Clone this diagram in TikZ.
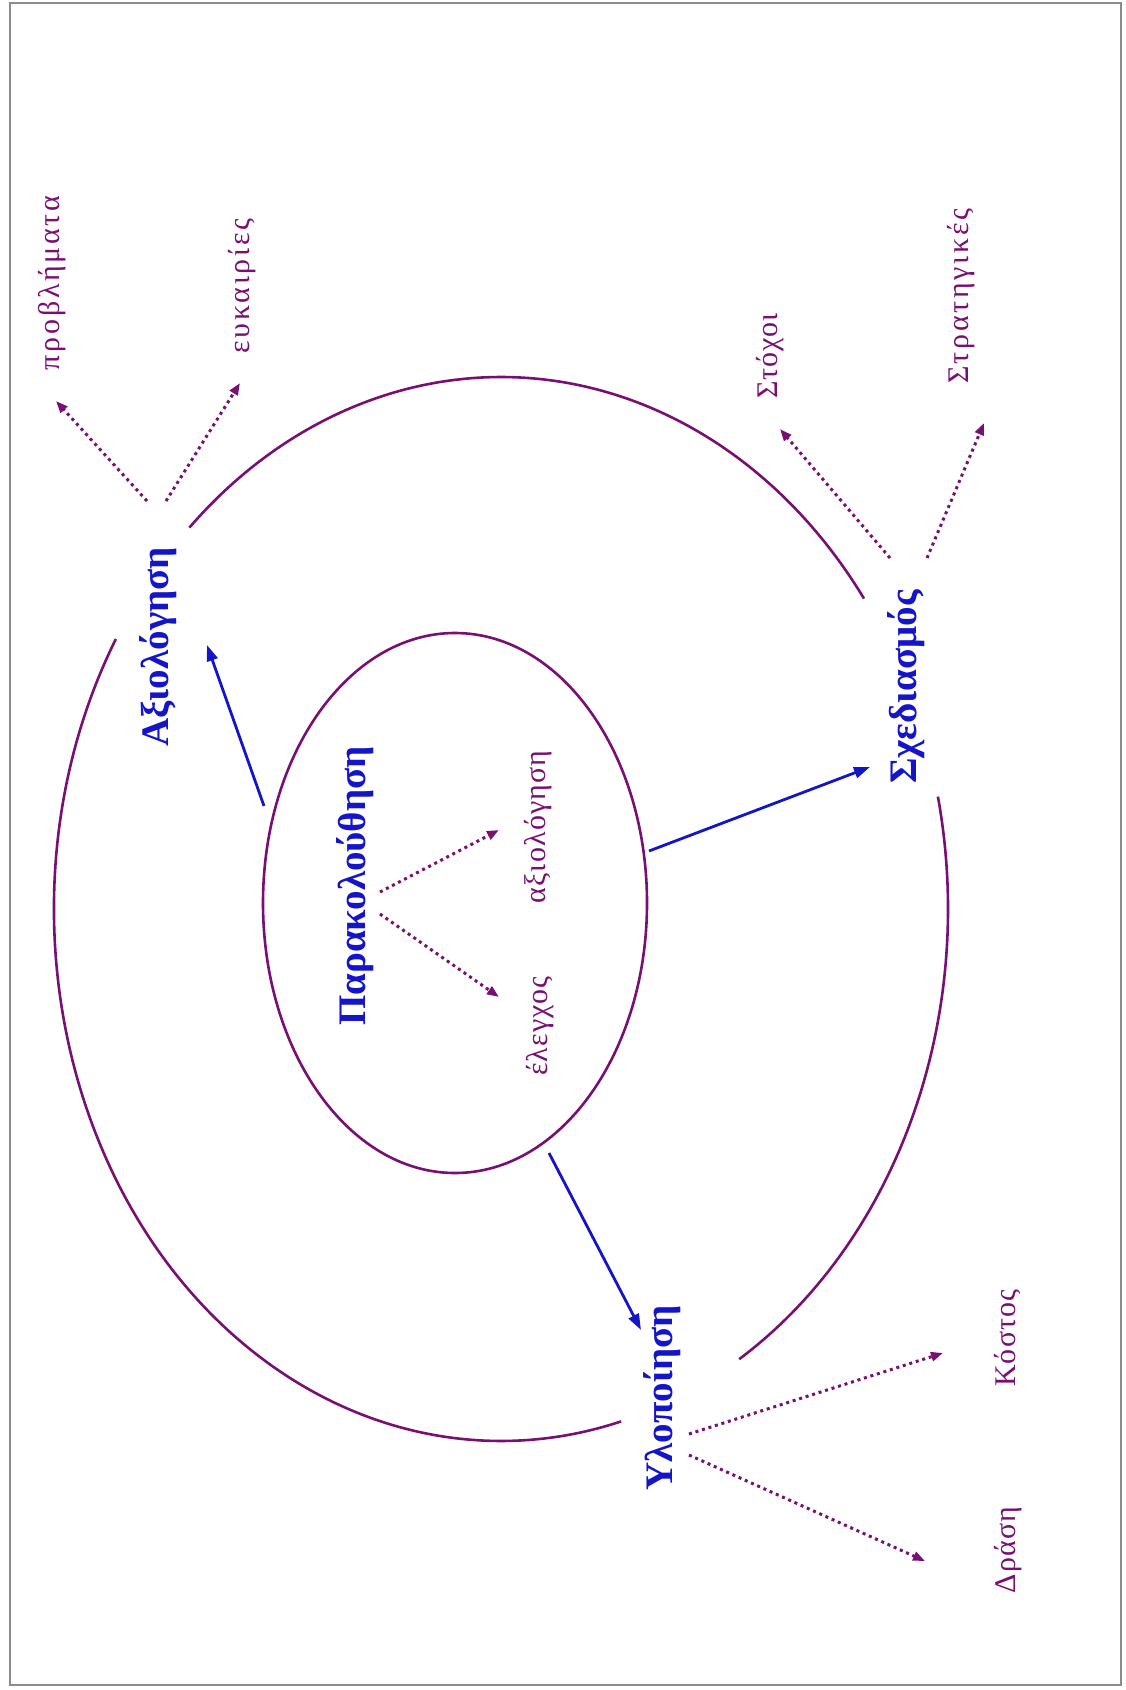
\documentclass[tikz,border=0pt]{standalone}
\usepackage{fontspec}
\setmainfont{Liberation Serif}
\newfontfamily\itemfont[LetterSpace=4]{Liberation Serif}
\newfontfamily\wideitemfont[LetterSpace=9]{Liberation Serif}
\usetikzlibrary{arrows.meta,shapes.geometric}
\definecolor{cyclepurple}{RGB}{120,15,115}
\definecolor{stageblue}{RGB}{20,20,200}
\definecolor{framegray}{RGB}{140,140,140}

\begin{document}
\begin{tikzpicture}[x=0.5pt,y=0.5pt,
  stage/.style={rotate=90, inner sep=0pt, text=stageblue,
    font=\fontsize{19.5}{22}\selectfont\bfseries},
  item/.style={rotate=90, inner sep=0pt, text=cyclepurple,
    font=\fontsize{15}{18}\selectfont\itemfont},
  wideitem/.style={item, font=\fontsize{15}{18}\selectfont\wideitemfont},
  ring/.style={draw=cyclepurple, line width=1.3pt},
  flow/.style={draw=stageblue, line width=1.4pt,
    -{Triangle[length=8pt,width=5.5pt]}},
  hint/.style={draw=cyclepurple, line width=1.5pt,
    dash pattern=on 1.5pt off 1.9pt,
    -{Triangle[length=6pt,width=4.5pt]}},
]
\useasboundingbox (0,0) rectangle (1125,-1690);
\draw[framegray, line width=1.3pt] (10,-3) rectangle (1121,-1685);

% inner loop
\node[ellipse, ring, minimum width=192pt, minimum height=270pt, inner sep=0pt]
  (core) at (455,-903) {};

% outer cycle, broken at the four stages
\coordinate (hub) at (501,-909);
\draw[ring] (hub) ++(149.5:447 and 532)
  arc[start angle=149.5, end angle=285.6, x radius=447, y radius=532];
\draw[ring] (hub) ++(134.2:447 and 532)
  arc[start angle=134.2, end angle=35.7, x radius=447, y radius=532];
\draw[ring] (hub) ++(12.2:447 and 532)
  arc[start angle=12.2, end angle=-57.8, x radius=447, y radius=532];

% stages
\node[stage] (eval)  at (158,-647)  {Αξιολόγηση};
\node[stage] (plan)  at (906,-687)  {Σχεδιασμός};
\node[stage] (monit) at (355,-886)  {Παρακολούθηση};
\node[stage] (impl)  at (662,-1398) {Υλοποίηση};

% outcomes
\node[wideitem] (prob)  at (52,-283)   {προβλήματα};
\node[wideitem] (opp)   at (242,-286)  {ευκαιρίες};
\node[item]     (goals) at (770,-356)  {Στόχοι};
\node[wideitem] (strat) at (961,-296)  {Στρατηγικές};
\node[item]     (asm)   at (538,-827)  {αξιολόγηση};
\node[item]     (ctrl)  at (540,-1026) {έλεγχος};
\node[item]     (cost)  at (1008,-1338) {Κόστος};
\node[item]     (act)   at (1008,-1550) {Δράση};

% monitoring feeds the stages
\draw[flow] ([shift={(-191,97)}]core.center) -- ([shift={(49,2)}]eval.center);
\draw[flow] ([shift={(194,52)}]core.center) -- ([shift={(-36,-80)}]plan.center);
\draw[flow] ([shift={(94,-250)}]core.center) -- ([shift={(-21,68)}]impl.center);

% what each stage produces
\draw[hint] ([shift={(-11,146)}]eval.center) -- ([shift={(4,-118)}]prob.center);
\draw[hint] ([shift={(8,146)}]eval.center) -- ([shift={(-2,-97)}]opp.center);
\draw[hint] ([shift={(-16,129)}]plan.center) -- ([shift={(10,-73)}]goals.center);
\draw[hint] ([shift={(21,129)}]plan.center) -- ([shift={(23,-127)}]strat.center);
\draw[hint] ([shift={(27,-36)}]impl.center) -- ([shift={(-65,-15)}]cost.center);
\draw[hint] ([shift={(27,-57)}]impl.center) -- ([shift={(-83,-11)}]act.center);
\draw[hint] ([shift={(25,-6)}]monit.center) -- ([shift={(-39,-3)}]asm.center);
\draw[hint] ([shift={(25,-28)}]monit.center) -- ([shift={(-41,29)}]ctrl.center);
\end{tikzpicture}
\end{document}
